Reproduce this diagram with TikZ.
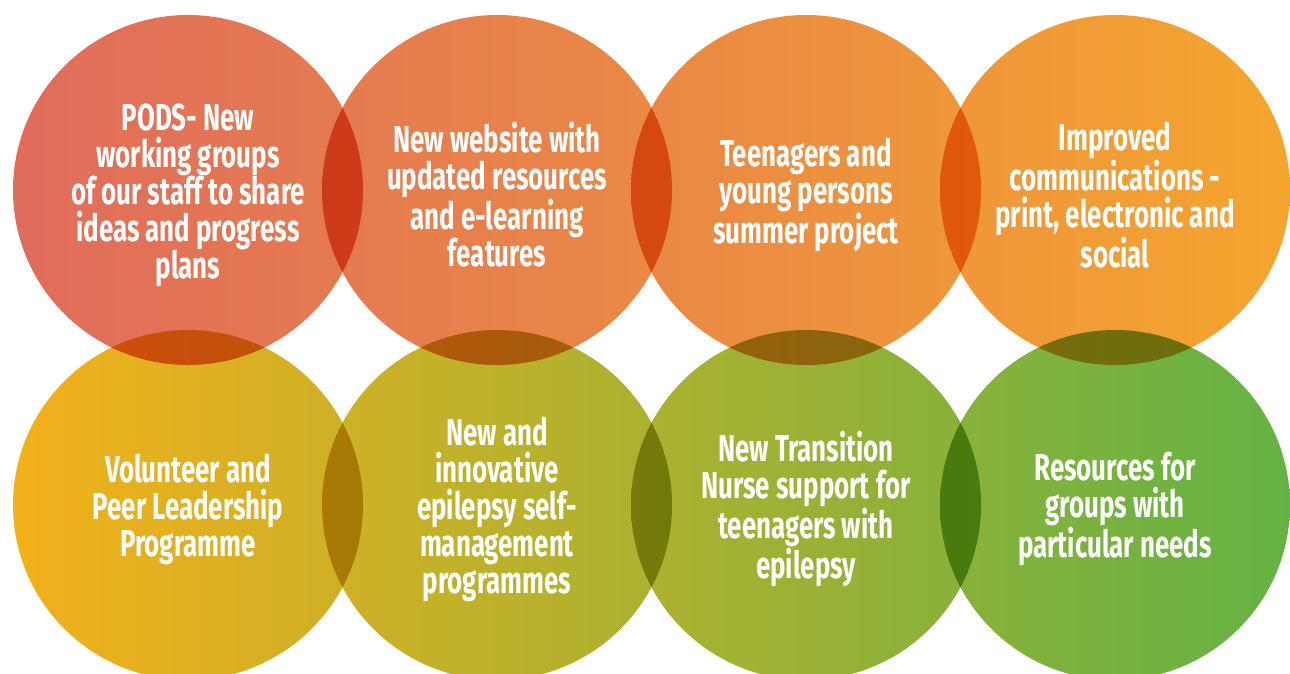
\documentclass[tikz,border=0pt]{standalone}
\usepackage{fontspec}
\newfontfamily\blobfont{Fira Sans}[FakeStretch=0.69]
\definecolor{topL}{HTML}{E06C5C}
\definecolor{topR}{HTML}{F4A52E}
\definecolor{botL}{HTML}{F3B01B}
\definecolor{botR}{HTML}{64B245}
\tikzset{
  blob/.style={circle, minimum size=10.5cm, inner sep=0pt, blend mode=multiply},
  blobtext/.style={text=white, align=center, inner sep=0pt,
    font=\blobfont\bfseries\fontsize{32}{31.6}\selectfont},
}
\begin{document}
\begin{tikzpicture}[x=0.03cm,y=-0.03cm]
\useasboundingbox (0,0) rectangle (1290,673);

\node[blob, left color=topL, right color=topR!27!topL] (c1) at (188,190) {};
\node[blob, left color=topR!24!topL, right color=topR!52!topL] (c2) at (497,190) {};
\node[blob, left color=topR!48!topL, right color=topR!76!topL] (c3) at (806,190) {};
\node[blob, left color=topR!73!topL, right color=topR] (c4) at (1115,190) {};

\node[blob, left color=botL, right color=botR!27!botL] (c5) at (188,505) {};
\node[blob, left color=botR!24!botL, right color=botR!52!botL] (c6) at (497,505) {};
\node[blob, left color=botR!48!botL, right color=botR!76!botL] (c7) at (806,505) {};
\node[blob, left color=botR!73!botL, right color=botR] (c8) at (1115,505) {};

\node[blobtext] (t1) at ([yshift=-0.15cm]c1.center) {PODS- New\\working groups\\of our staff to share\\ideas and progress\\plans};
\node[blobtext] (t2) at ([yshift=-0.15cm]c2.center) {New website with\\updated resources\\and e-learning\\features};
\node[blobtext] (t3) at ([yshift=-0.15cm]c3.center) {Teenagers and\\young persons\\summer project};
\node[blobtext] (t4) at ([yshift=-0.15cm]c4.center) {Improved\\communications -\\print, electronic and\\social};

\node[blobtext] (t5) at ([yshift=-0.12cm]c5.center) {Volunteer and\\Peer Leadership\\Programme};
\node[blobtext] (t6) at ([yshift=-0.12cm]c6.center) {New and\\innovative\\epilepsy self-\\management\\programmes};
\node[blobtext] (t7) at ([yshift=-0.12cm]c7.center) {New Transition\\Nurse support for\\teenagers with\\epilepsy};
\node[blobtext] (t8) at ([yshift=-0.12cm]c8.center) {Resources for\\groups with\\particular needs};
\end{tikzpicture}
\end{document}
